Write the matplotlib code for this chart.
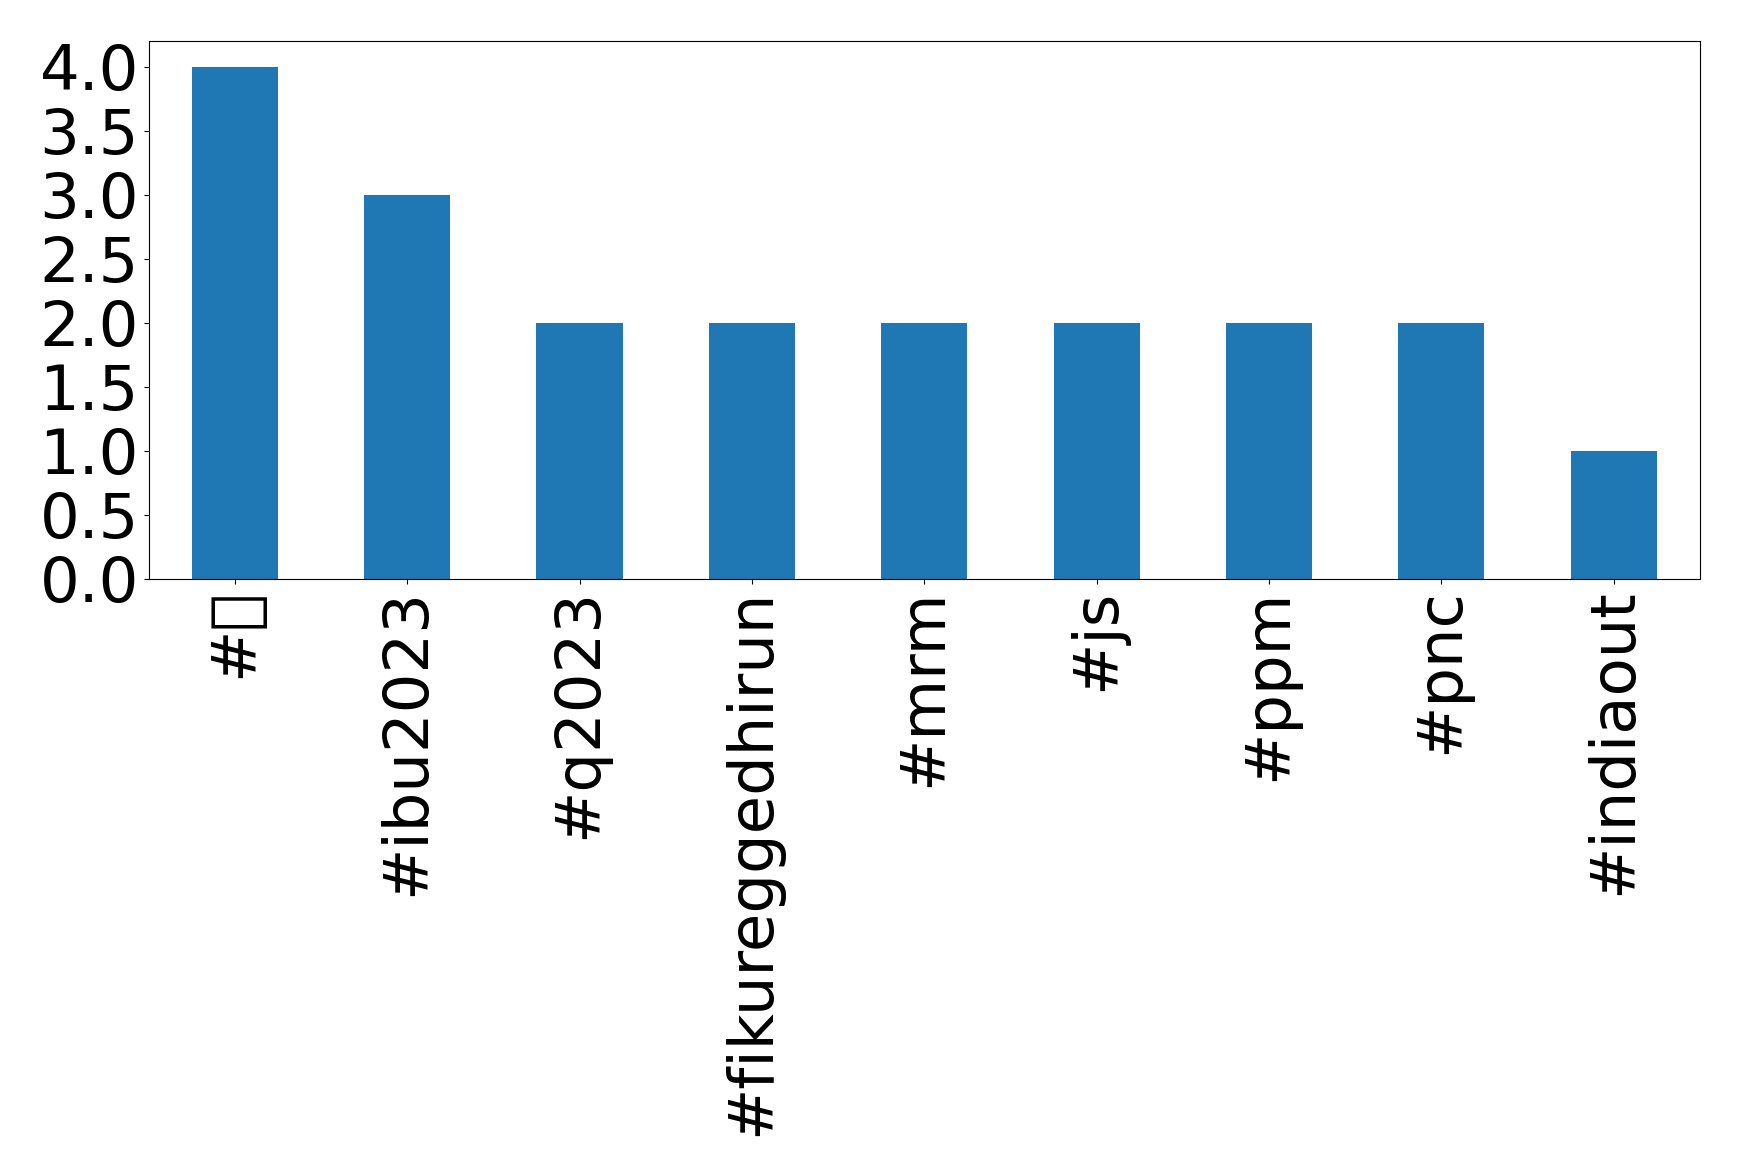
import matplotlib
matplotlib.use("Agg")
import matplotlib.pyplot as plt

categories = ["#\U0001F1F2", "#ibu2023", "#q2023", "#fikureggedhirun", "#mrm", "#js", "#ppm", "#pnc", "#indiaout"]
counts = [4, 3, 2, 2, 2, 2, 2, 2, 1]

fig = plt.figure(figsize=(17.39, 11.76), dpi=100)
ax = fig.add_axes([0.0855, 0.508, 0.892, 0.457])
x = list(range(len(categories)))
ax.bar(x, counts, width=0.5, color="#1f77b4")
ax.set_xlim(-0.5, len(categories) - 0.5)
ax.set_ylim(0, 4.2)
ax.set_xticks(x)
ax.set_xticklabels(categories, rotation=90, fontsize=45)
ax.set_yticks([0, 0.5, 1, 1.5, 2, 2.5, 3, 3.5, 4])
ax.set_yticklabels(["0.0", "0.5", "1.0", "1.5", "2.0", "2.5", "3.0", "3.5", "4.0"], fontsize=45)
fig.savefig("out.png", dpi=100)
